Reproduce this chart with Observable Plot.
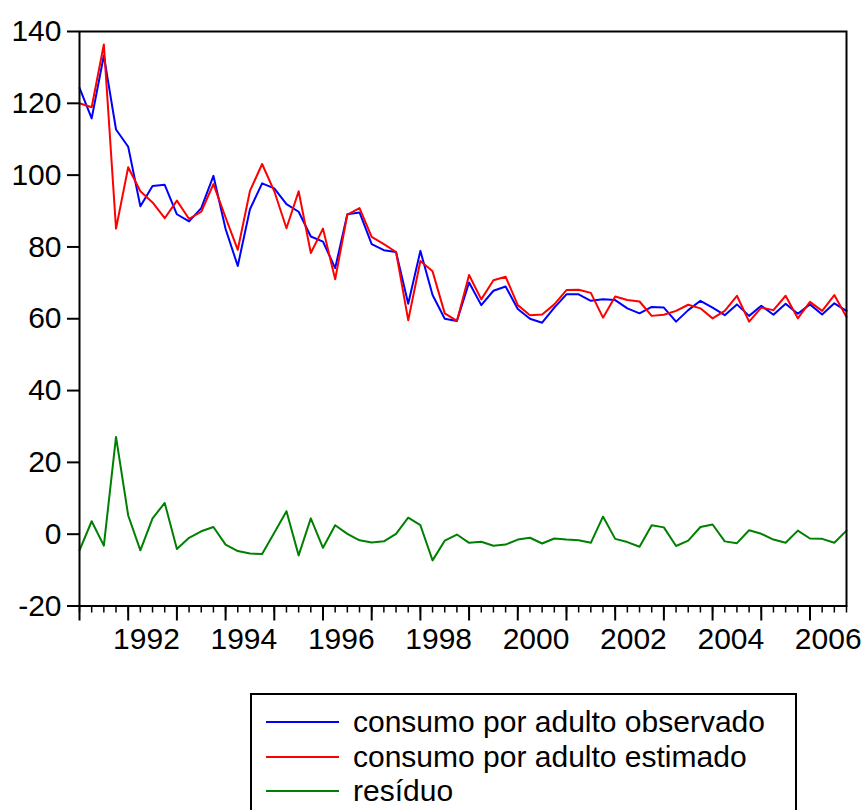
<!DOCTYPE html>
<html><head><meta charset="utf-8">
<script src="https://cdn.jsdelivr.net/npm/d3@7"></script>
<script src="https://cdn.jsdelivr.net/npm/@observablehq/plot@0.6"></script>
<style>
body{margin:0;background:#fff;font-family:"Liberation Sans",Arial,sans-serif;overflow:hidden;}
#legend{position:absolute;left:250px;top:693px;width:547px;height:135px;border:2px solid #000;box-sizing:border-box;background:#fff;}
.row{position:absolute;left:14px;height:34px;display:flex;align-items:center;font-size:30px;color:#000;white-space:nowrap;}
.sw{width:73px;height:2px;margin-right:14px;}
</style></head><body>
<div id="chart"></div>
<div id="legend"></div>
<script>
const seriesNames = ["consumo por adulto observado", "consumo por adulto estimado", "resíduo"];
const seriesColors = ["#0000ff", "#ff0000", "#008000"];
const startYear = 1991; // first quarter 1991Q1, quarterly to 2006Q4

const observado = [124.3,115.8,133.3,112.7,107.9,91.3,97.0,97.3,89.1,87.1,90.8,99.8,85.0,74.7,90.5,97.7,
  96.3,91.9,89.8,82.9,81.5,74.1,89.1,89.6,80.8,79.1,78.6,64.2,78.9,66.6,60.0,59.4,
  70.1,63.8,67.8,69.0,62.7,60.0,58.9,63.1,66.8,66.8,65.0,65.4,65.2,62.9,61.5,63.3,
  63.1,59.2,62.4,65.0,63.1,61.0,64.0,60.8,63.6,61.1,64.2,61.4,64.0,61.2,64.3,62.2];
const estimado = [120.0,118.9,136.4,85.1,102.2,95.5,92.4,88.0,92.9,87.8,89.8,97.5,88.2,79.2,95.6,103.1,
  95.5,85.2,95.5,78.3,85.1,71.0,89.0,90.8,82.8,80.8,78.6,59.6,76.1,73.2,61.5,59.4,
  72.2,65.4,70.7,71.7,63.8,61.0,61.2,64.0,68.0,68.1,67.2,60.3,66.2,65.2,64.8,60.8,
  61.1,62.2,63.9,62.9,60.1,62.2,66.4,59.2,63.1,62.4,66.4,60.1,64.7,62.2,66.6,60.5];
const residuo = [-4.5,3.6,-3.2,27.1,5.2,-4.5,4.4,8.7,-4.1,-1.0,0.8,2.0,-2.9,-4.7,-5.4,-5.5,
  0.4,6.4,-5.9,4.4,-3.8,2.5,0.1,-1.7,-2.3,-2.0,0.1,4.6,2.5,-7.3,-1.8,-0.1,
  -2.4,-2.1,-3.2,-2.9,-1.5,-1.0,-2.6,-1.2,-1.5,-1.7,-2.4,4.9,-1.3,-2.2,-3.5,2.5,
  1.9,-3.3,-1.8,2.0,2.7,-2.0,-2.5,1.1,0.1,-1.5,-2.4,1.0,-1.2,-1.3,-2.4,1.0];

const yTicks = [-20, 0, 20, 40, 60, 80, 100, 120, 140];
const yearTicks = [1991,1992,1993,1994,1995,1996,1997,1998,1999,2000,2001,2002,2003,2004,2005,2006];
const labelYears = [1992,1994,1996,1998,2000,2002,2004,2006];

const periods = observado.map((_, i) => startYear + i / 4);
const quarterTicks = periods.slice();
const toRows = vals => vals.map((v, i) => ({t: periods[i], v}));
const allSeries = [observado, estimado, residuo];

const chart = Plot.plot({
  width: 866, height: 690,
  marginLeft: 79, marginRight: 20, marginTop: 31, marginBottom: 84.5,
  style: {fontFamily: "'Liberation Sans', Arial, sans-serif", background: "white", color: "black"},
  x: {domain: [periods[0], periods[periods.length - 1]]},
  y: {domain: [-20, 140]},
  marks: [
    Plot.axisY(yTicks, {label: null, tickSize: 12, tickPadding: 6, fontSize: 30, strokeWidth: 2, tickFormat: d => String(d)}),
    Plot.axisX(quarterTicks, {label: null, tickSize: 7, strokeWidth: 1.5, fill: "none", tickFormat: () => ""}),
    Plot.axisX(yearTicks, {label: null, tickSize: 15, strokeWidth: 2, fill: "none", tickFormat: () => ""}),
    Plot.axisX(labelYears.map(y => y + 0.375), {label: null, tickSize: 0, tickPadding: 22, fontSize: 30, tickFormat: d => String(Math.floor(d))}),
    ...allSeries.map((s, k) => Plot.line(toRows(s), {x: "t", y: "v", stroke: seriesColors[k], strokeWidth: 2})),
    Plot.frame({stroke: "black", strokeWidth: 2})
  ]
});
document.getElementById("chart").appendChild(chart);

const legend = document.getElementById("legend");
seriesNames.forEach((name, k) => {
  const row = document.createElement("div");
  row.className = "row";
  row.style.top = (10 + k * 34.5) + "px";
  const sw = document.createElement("div");
  sw.className = "sw";
  sw.style.background = seriesColors[k];
  const tx = document.createElement("span");
  tx.textContent = name;
  row.appendChild(sw); row.appendChild(tx);
  legend.appendChild(row);
});
</script></body></html>
